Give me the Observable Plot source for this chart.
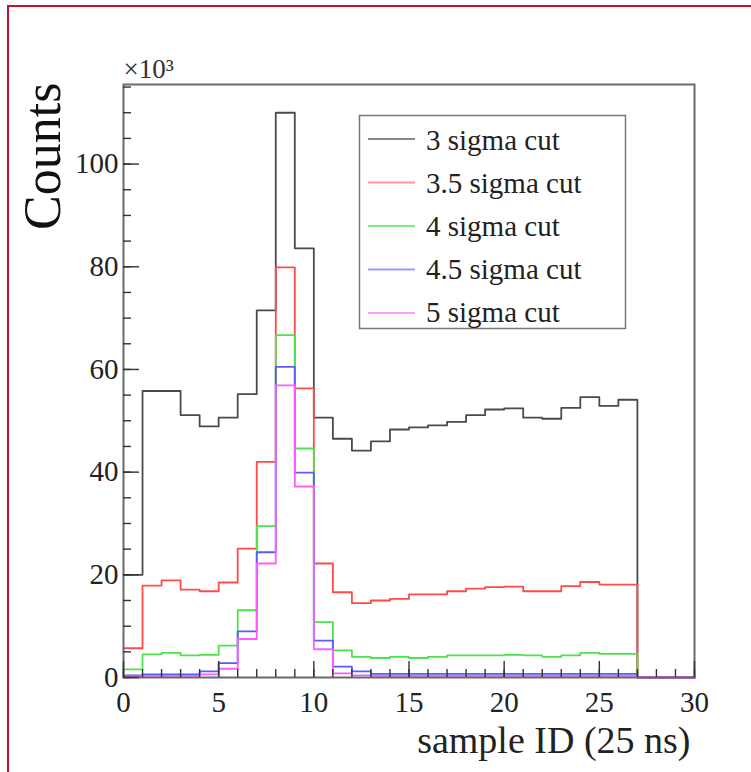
<!DOCTYPE html>
<html><head><meta charset="utf-8">
<script src="https://cdn.jsdelivr.net/npm/d3@7"></script>
<script src="https://cdn.jsdelivr.net/npm/@observablehq/plot@0.6"></script>
<style>
html,body{margin:0;padding:0;background:#fff;overflow:hidden;width:751px;height:772px;}
#border{position:absolute;left:7px;top:5px;width:800px;height:800px;border-left:2px solid #c8102e;border-top:2px solid #c8102e;box-sizing:border-box;pointer-events:none;}
#chart{position:absolute;left:0;top:0;}
</style></head><body>
<div id="chart"></div><div id="border"></div>
<script>
// bin low edges (sample ID), bin width 1
const sampleID = d3.range(0, 30);
const seriesNames = ["3 sigma cut", "3.5 sigma cut", "4 sigma cut", "4.5 sigma cut", "5 sigma cut"];
const seriesColors = ["#4a4a4a", "#ff4a4a", "#4ee24e", "#5a5aff", "#ff5cff"];
const legendColors = ["#888888", "#ff9a9a", "#7ef07e", "#9a9aff", "#ff9aff"];
// counts in units of 10^3
const counts3 = [20, 55.8, 55.8, 51.1, 48.9, 50.6, 55.2, 71.5, 110, 83.6, 50.6, 46.5, 44.2, 46, 48.3, 48.7, 49.1, 49.8, 51.1, 52.2, 52.4, 50.6, 50.4, 52.5, 54.6, 52.9, 54.1, 0, 0, 0];
const counts35 = [5.7, 17.9, 18.9, 17.1, 16.8, 18.5, 25.1, 42, 79.9, 56.3, 22.2, 16.6, 14.5, 15, 15.3, 16.2, 16.2, 16.8, 17.3, 17.6, 17.7, 16.8, 16.8, 17.8, 18.6, 18.1, 18.1, 0, 0, 0];
const counts4 = [1.6, 4.5, 4.8, 4.3, 4.4, 6.2, 13.1, 29.5, 66.7, 44.6, 10.8, 5.3, 4.0, 3.8, 4.0, 3.8, 4.0, 4.3, 4.3, 4.3, 4.4, 4.3, 4.0, 4.3, 4.8, 4.6, 4.6, 0, 0, 0];
const counts45 = [0.4, 0.6, 0.6, 0.6, 1.2, 2.8, 9.0, 24.4, 60.5, 39.9, 7.2, 2.1, 1.2, 0.7, 0.7, 0.7, 0.7, 0.7, 0.7, 0.7, 0.7, 0.7, 0.7, 0.7, 0.7, 0.7, 0.7, 0, 0, 0];
const counts5 = [0.2, 0.3, 0.3, 0.3, 0.6, 1.7, 7.5, 22.2, 56.9, 37.2, 5.5, 0.8, 0.4, 0.3, 0.3, 0.3, 0.3, 0.3, 0.3, 0.3, 0.3, 0.3, 0.3, 0.3, 0.3, 0.3, 0.3, 0, 0, 0];
const xTickLabels = [0, 5, 10, 15, 20, 25, 30];
const yTickLabels = [0, 20, 40, 60, 80, 100];

const allCounts = [counts3, counts35, counts4, counts45, counts5];
const FONT = "'Liberation Serif', 'Times New Roman', serif";

function stepData(vals) {
  const rows = sampleID.map((x, i) => ({x, y: vals[i]}));
  rows.push({x: sampleID[sampleID.length - 1] + 1, y: vals[vals.length - 1]});
  return rows;
}

const lineMarks = allCounts.map((vals, k) =>
  Plot.line(stepData(vals), {x: "x", y: "y", curve: "step-after", stroke: seriesColors[k], strokeWidth: 1.8})
);

const plot = Plot.plot({
  width: 751,
  height: 772,
  marginLeft: 123,
  marginRight: 57,
  marginTop: 84,
  marginBottom: 95,
  style: {background: "transparent", color: "#222"},
  x: {domain: [0, 30], label: null},
  y: {domain: [0, 115.5], label: null},
  marks: [
    ...lineMarks,
    Plot.frame({stroke: "#6a6a6a", strokeWidth: 2}),
    // x ticks
    Plot.axisX(d3.range(0, 31, 1), {anchor: "bottom", label: null, tickSize: -8, tickFormat: () => "", strokeWidth: 1.4, stroke: "#333"}),
    Plot.axisX(d3.range(0, 31, 5), {anchor: "bottom", label: null, tickSize: -16, tickFormat: () => "", strokeWidth: 1.4, stroke: "#333"}),
    Plot.axisX(xTickLabels, {anchor: "bottom", label: null, tickSize: 0, tickPadding: 14, fontSize: 29, fontFamily: FONT}),
    // y ticks
    Plot.axisY(d3.range(0, 116, 5), {anchor: "left", label: null, tickSize: -8, tickFormat: () => "", strokeWidth: 1.4, stroke: "#333"}),
    Plot.axisY(d3.range(0, 116, 20), {anchor: "left", label: null, tickSize: -16, tickFormat: () => "", strokeWidth: 1.4, stroke: "#333"}),
    Plot.axisY(yTickLabels, {anchor: "left", label: null, tickSize: 0, tickPadding: 5, fontSize: 29, fontFamily: FONT}),
    // titles
    Plot.text(["Counts"], {frameAnchor: "top-left", text: d => d, rotate: -90, textAnchor: "end", lineAnchor: "middle", dx: -80, dy: -2, fontSize: 52, fontFamily: FONT, fill: "#111"}),
    Plot.text(["sample ID (25 ns)"], {frameAnchor: "bottom-right", text: d => d, textAnchor: "end", lineAnchor: "middle", dx: -4, dy: 63, fontSize: 38, fontFamily: FONT, fill: "#222"}),
    Plot.text(["×10³"], {frameAnchor: "top-left", text: d => d, textAnchor: "start", lineAnchor: "middle", dx: 0, dy: -15, fontSize: 27, fontFamily: FONT, fill: "#333"})
  ]
});

document.getElementById("chart").appendChild(plot);

// legend box
const svg = d3.select(plot);
const lg = svg.append("g").attr("text-anchor", "start");
lg.append("rect").attr("x", 359.5).attr("y", 115.5).attr("width", 266).attr("height", 213)
  .attr("fill", "#fff").attr("stroke", "#777").attr("stroke-width", 1.5);
seriesNames.forEach((name, i) => {
  const cy = 139 + i * 43.5;
  lg.append("line").attr("x1", 368).attr("x2", 415).attr("y1", cy).attr("y2", cy)
    .attr("stroke", legendColors[i]).attr("stroke-width", 2);
  lg.append("text").attr("x", 426).attr("y", 150 + i * 43).attr("text-anchor", "start")
    .attr("font-family", FONT).attr("font-size", 29).attr("fill", "#222").text(name);
});
</script>
</body></html>
